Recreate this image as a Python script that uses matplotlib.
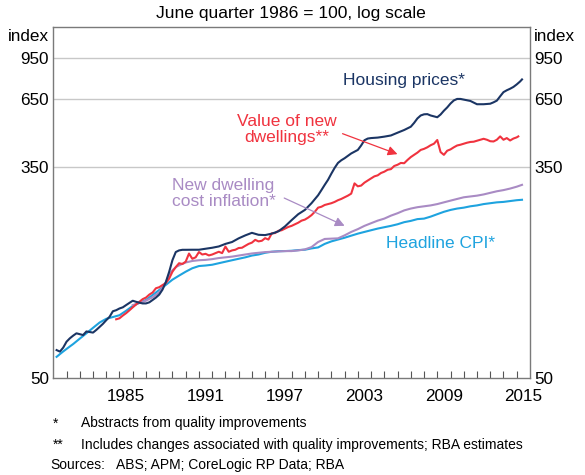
import numpy as np
import matplotlib
matplotlib.use('Agg')
import matplotlib.pyplot as plt
from matplotlib.ticker import FixedLocator, NullLocator

plt.rcParams['font.family'] = ['Liberation Sans', 'DejaVu Sans']

# housing prices (year, index)
housing_x = [1980.25, 1980.5, 1980.75, 1981.0, 1981.25, 1981.5, 1981.75, 1982.0, 1982.25, 1982.5,
             1982.75, 1983.0, 1983.25, 1983.5, 1983.75, 1984.0, 1984.25, 1984.5, 1984.75, 1985.0,
             1985.25, 1985.5, 1985.75, 1986.0, 1986.25, 1986.5, 1986.75, 1987.0, 1987.25, 1987.5,
             1987.75, 1988.0, 1988.25, 1988.5, 1988.75, 1989.0, 1989.25, 1989.5, 1989.75, 1990.0,
             1990.5, 1991.0, 1991.5, 1992.0, 1992.5, 1993.0, 1993.5, 1994.0, 1994.5, 1995.0,
             1995.5, 1996.0, 1996.5, 1997.0, 1997.5, 1998.0, 1998.5, 1999.0, 1999.5, 2000.0,
             2000.25, 2000.5, 2000.75, 2001.0, 2001.25, 2001.5, 2001.75, 2002.0, 2002.5, 2003.0,
             2003.25, 2003.5, 2003.75, 2004.0, 2004.5, 2005.0, 2005.5, 2006.0, 2006.5, 2007.0,
             2007.25, 2007.5, 2007.75, 2008.0, 2008.25, 2008.5, 2009.0, 2009.25, 2009.5, 2009.75,
             2010.0, 2010.25, 2010.5, 2010.75, 2011.0, 2011.5, 2012.0, 2012.5, 2013.0, 2013.25,
             2013.5, 2013.75, 2014.0, 2014.25, 2014.5, 2014.75, 2015.0, 2015.25, 2015.4]
housing = [64.8, 63.9, 66.3, 70, 72.2, 74, 75.6, 75.0, 74.4, 76.9,
           76.5, 76.1, 78, 80.2, 82.5, 85.3, 88, 92.6, 93.5, 95.0,
           96, 98.0, 100, 102.0, 101, 100.2, 99.5, 99.5, 100.5, 102.7,
           105, 107.9, 113, 121.1, 133, 148.2, 159.6, 162, 162.9, 162.9,
           163, 163, 164.5, 166, 168, 172, 175, 181, 186, 190.4,
           187, 186.5, 189, 193, 202, 214, 226, 235, 250, 269,
           282, 296, 310, 328, 346, 362, 371, 378, 395, 408,
           425, 446, 453, 455, 457, 461, 466, 478, 490, 505,
           523, 545, 560, 566, 567, 560, 551, 565, 585, 603,
           625, 643, 652, 652, 648, 640, 621, 621, 624, 632,
           642, 668, 694, 706, 716, 728, 745, 765, 780]

# value of new dwellings
value_x = [1984.75, 1985.0, 1985.25, 1985.5, 1985.75, 1986.0, 1986.25, 1986.5, 1986.75, 1987.0,
           1987.25, 1987.5, 1987.75, 1988.0, 1988.25, 1988.5, 1988.75, 1989.0, 1989.25, 1989.5,
           1989.75, 1990.0, 1990.25, 1990.5, 1990.75, 1991.0, 1991.25, 1991.5, 1991.75, 1992.0,
           1992.25, 1992.5, 1992.75, 1993.0, 1993.25, 1993.5, 1993.75, 1994.0, 1994.25, 1994.5,
           1994.75, 1995.0, 1995.25, 1995.5, 1995.75, 1996.0, 1996.25, 1996.5, 1996.75, 1997.0,
           1997.25, 1997.5, 1997.75, 1998.0, 1998.25, 1998.5, 1998.75, 1999.0, 1999.25, 1999.5,
           1999.75, 2000.0, 2000.25, 2000.5, 2000.75, 2001.0, 2001.25, 2001.5, 2001.75, 2002.0,
           2002.25, 2002.5, 2002.75, 2003.0, 2003.25, 2003.5, 2003.75, 2004.0, 2004.25, 2004.5,
           2004.75, 2005.0, 2005.25, 2005.5, 2005.75, 2006.0, 2006.25, 2006.5, 2006.75, 2007.0,
           2007.25, 2007.5, 2007.75, 2008.0, 2008.25, 2008.5, 2008.75, 2009.0, 2009.25, 2009.5,
           2009.75, 2010.0, 2010.25, 2010.5, 2010.75, 2011.0, 2011.25, 2011.5, 2011.75, 2012.0,
           2012.25, 2012.5, 2012.75, 2013.0, 2013.25, 2013.5, 2013.75, 2014.0, 2014.25, 2014.5,
           2014.75, 2015.0, 2015.12]
value_new = [86.0, 86.8, 89, 91, 93.4, 96, 98.5, 101, 103.5, 105,
             107.9, 110, 114.4, 115.5, 117.8, 120, 125, 133.2, 139, 144,
             143, 146.1, 157.4, 150, 152, 159.6, 156, 157, 154.7, 156,
             158, 160, 158, 167.8, 160, 162, 163, 165.6, 166, 169,
             172, 174, 178.5, 176, 177, 181.3, 179, 189.5, 190, 194,
             195, 198, 201, 203, 206, 209, 213, 215, 219, 224,
             231, 240, 242, 246, 248, 250, 253, 257, 260, 264,
             268, 273, 300, 292, 294, 302, 308, 314, 320, 323,
             330, 334, 340, 342, 352, 356, 362, 361, 372, 382,
             390, 398, 408, 412, 418, 426, 432, 447, 400, 390,
             405, 410, 418, 425, 428, 432, 436, 439, 440, 444,
             448, 452, 448, 442, 441, 448, 462, 448, 455, 445,
             453, 458, 462]

# new dwelling cost inflation
cost_x = [1986.0, 1986.5, 1987.0, 1987.5, 1988.0, 1988.5, 1988.75, 1989.0, 1989.3, 1989.6,
          1990.0, 1990.5, 1991.0, 1991.5, 1992.0, 1992.5, 1993.0, 1993.5, 1994.0, 1994.5,
          1995.0, 1995.5, 1996.0, 1996.5, 1997.0, 1997.5, 1998.0, 1998.5, 1999.0, 1999.5,
          2000.0, 2000.5, 2001.0, 2001.5, 2002.0, 2002.5, 2003.0, 2003.5, 2004.0, 2004.5,
          2005.0, 2005.5, 2006.0, 2006.5, 2007.0, 2007.5, 2008.0, 2008.5, 2009.0, 2009.5,
          2010.0, 2010.5, 2011.0, 2011.5, 2012.0, 2012.5, 2013.0, 2013.5, 2014.0, 2014.5,
          2015.0, 2015.4]
cost = [98, 100, 102, 105.3, 110, 120.6, 130, 135, 139.4, 142,
        145, 147, 148, 148.5, 149.5, 151, 152, 153, 154.5, 156,
        157.5, 158.5, 159.5, 160, 160.5, 161, 161, 162, 163.5, 167,
        175, 180, 180.5, 181, 186, 192, 197, 203, 208, 213,
        217, 223, 228, 234, 238, 241, 243, 245, 248, 252,
        256, 260, 264, 266, 268, 271, 275, 279, 282, 286,
        291, 296]

# headline CPI
cpi_x = [1980.25, 1980.75, 1981.25, 1981.5, 1982.0, 1982.5, 1983.0, 1983.5, 1984.0, 1984.5,
         1985.0, 1985.5, 1986.0, 1986.5, 1987.0, 1987.5, 1988.0, 1988.5, 1989.0, 1989.5,
         1990.0, 1990.5, 1991.0, 1991.5, 1992.0, 1992.5, 1993.0, 1993.5, 1994.0, 1994.5,
         1995.0, 1995.5, 1996.0, 1996.5, 1997.0, 1997.5, 1998.0, 1998.5, 1999.0, 1999.5,
         2000.0, 2000.5, 2000.75, 2001.0, 2001.5, 2002.0, 2002.5, 2003.0, 2003.5, 2004.0,
         2004.5, 2005.0, 2005.5, 2006.0, 2006.5, 2007.0, 2007.5, 2008.0, 2008.5, 2009.0,
         2009.5, 2010.0, 2010.5, 2011.0, 2011.5, 2012.0, 2012.5, 2013.0, 2013.5, 2014.0,
         2014.5, 2015.0, 2015.4]
cpi = [60.9, 64, 67, 68.5, 72, 75.6, 79.5, 83.5, 86.4, 87.8,
       89.3, 93, 97.2, 100, 102.7, 107.5, 112.6, 118, 123.8, 128.5,
       133.2, 137.5, 140.3, 141, 142, 144, 146, 148, 150, 152,
       154.5, 156, 158.5, 160, 160.8, 161, 161.5, 162.5, 163, 165,
       166.5, 172, 174, 176, 179, 182, 185.5, 189, 192, 195,
       198, 200.5, 203, 206, 210, 212.5, 216, 217, 221, 226,
       231, 235, 238, 240, 243, 245, 248, 250, 252, 253,
       255, 257, 258]

yticks = [50, 350, 650, 950]
xlabels = [1985, 1991, 1997, 2003, 2009, 2015]

navy = '#1b3564'
red = '#f0333f'
purple = '#a98bc4'
lblue = '#1ea3df'

fig = plt.figure(figsize=(5.85, 4.75), dpi=100)
ax = fig.add_axes([0.0911, 0.2036, 0.8148, 0.739])

ax.plot(cpi_x, cpi, color=lblue, lw=1.5)
ax.plot(cost_x, cost, color=purple, lw=1.5)
ax.plot(value_x, value_new, color=red, lw=1.5)
ax.plot(housing_x, housing, color=navy, lw=1.5)

ax.set_yscale('log')
ax.set_ylim(50, 1260)
ax.set_xlim(1980, 2016)
ax.yaxis.set_major_locator(FixedLocator(yticks))
ax.yaxis.set_minor_locator(NullLocator())
ax.set_yticklabels([str(t) for t in yticks])
ax.tick_params(axis='y', length=0, labelsize=12.3, pad=3, labelright=True, labelleft=True)
for t in yticks[1:]:
    ax.axhline(t, color='#c8c8c8', lw=1, zorder=0)

ax.xaxis.set_major_locator(FixedLocator([y + 0.5 for y in xlabels]))
ax.set_xticklabels([str(y) for y in xlabels])
ax.xaxis.set_minor_locator(FixedLocator(np.arange(1981, 2016)))
ax.tick_params(axis='x', which='major', length=0, labelsize=12.3, pad=8)
ax.tick_params(axis='x', which='minor', direction='in', length=5, color='#555555', width=0.8)

for s in ax.spines.values():
    s.set_color('#7a7a7a')
    s.set_linewidth(1)

ax.text(-0.008, 0.975, 'index', transform=ax.transAxes, ha='right', va='center', fontsize=12.3)
ax.text(1.008, 0.975, 'index', transform=ax.transAxes, ha='left', va='center', fontsize=12.3)

ax.text(2006.49, 773, 'Housing prices*', color=navy, fontsize=12.5, ha='center', va='center')
ax.text(1997.61, 493, 'Value of new\ndwellings**', color=red, fontsize=12.5, ha='center', va='center',
        linespacing=1.1)
ax.text(1992.86, 274, 'New dwelling\ncost inflation*', color=purple, fontsize=12.5, ha='center',
        va='center', linespacing=1.1)
ax.text(2005.13, 173, 'Headline CPI*', color=lblue, fontsize=12.5, ha='left', va='center')

ax.annotate('', xy=(2006.19, 389), xytext=(2001.65, 478),
            arrowprops=dict(arrowstyle='-|>', color=red, lw=0.9, mutation_scale=14))
ax.annotate('', xy=(2002.19, 201), xytext=(1997.25, 265),
            arrowprops=dict(arrowstyle='-|>', color=purple, lw=0.9, mutation_scale=14))

fig.text(0.497, 0.972, 'June quarter 1986 = 100, log scale', ha='center', va='center', fontsize=12.6)

fig.text(0.0911, 0.1088, '*', ha='left', va='center', fontsize=10)
fig.text(0.1385, 0.1088, 'Abstracts from quality improvements', ha='left', va='center', fontsize=10)
fig.text(0.0911, 0.0632, '**', ha='left', va='center', fontsize=10)
fig.text(0.1385, 0.0632, 'Includes changes associated with quality improvements; RBA estimates',
         ha='left', va='center', fontsize=10)
fig.text(0.0855, 0.0211, 'Sources:', ha='left', va='center', fontsize=10)
fig.text(0.198, 0.0211, 'ABS; APM; CoreLogic RP Data; RBA', ha='left', va='center', fontsize=10)

fig.savefig('out.png', dpi=100)
